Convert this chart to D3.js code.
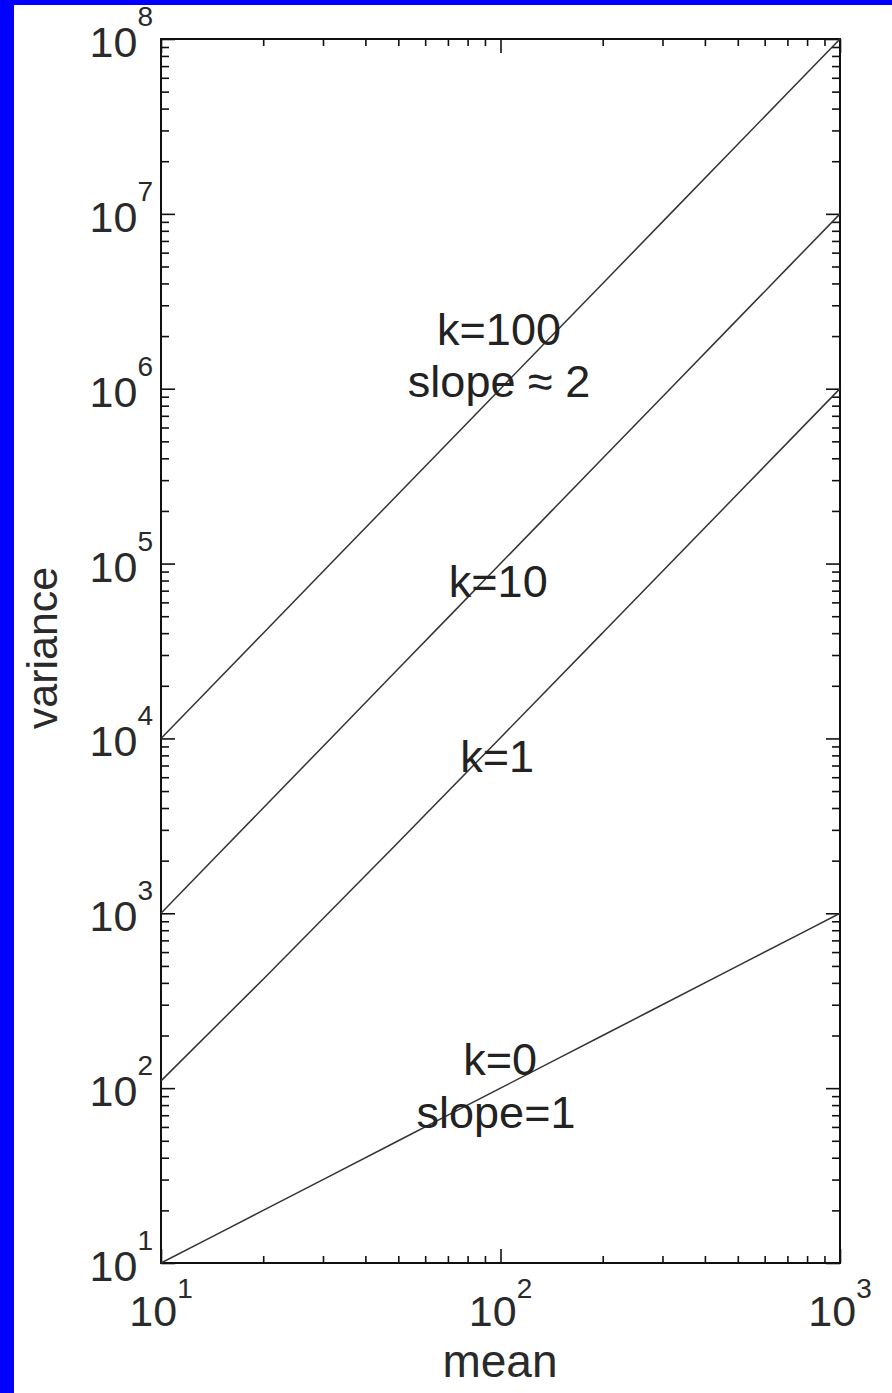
<!DOCTYPE html>
<html>
<head>
<meta charset="utf-8">
<script src="https://cdn.jsdelivr.net/npm/d3@7/dist/d3.min.js"></script>
<style>
  html, body { margin: 0; padding: 0; background: #0000ff; }
  svg { display: block; }
  text { font-family: "Liberation Sans", Arial, Helvetica, sans-serif; }
</style>
</head>
<body>
<svg id="chart" width="892" height="1393"></svg>
<script>
// ---- data ----
const meanValues = [10, 20, 50, 100, 200, 500, 1000];
const varK100 = [1e4, 4e4, 2.5e5, 1e6, 4e6, 2.5e7, 1e8];
const varK10  = [1e3, 4e3, 2.5e4, 1e5, 4e5, 2.5e6, 1e7];
const varK1   = [110, 420, 2550, 10100, 40200, 250500, 1001000];
const varK0   = [10, 20, 50, 100, 200, 500, 1000];
const seriesNames = ["k=100", "k=10", "k=1", "k=0"];
const xMajorTicks = [10, 100, 1000];
const yMajorTicks = [1e1, 1e2, 1e3, 1e4, 1e5, 1e6, 1e7, 1e8];
// annotation labels: [text, mean, variance]
const annotations = [
  ["k=100", 99, Math.pow(10, 6.25)],
  ["slope \u2248 2", 99, Math.pow(10, 5.953)],
  ["k=10", 98.5, Math.pow(10, 4.809)],
  ["k=1", 97.8, Math.pow(10, 3.808)],
  ["k=0", 99.7, Math.pow(10, 2.075)],
  ["slope=1", 97, Math.pow(10, 1.772)]
];

const svg = d3.select("#chart");
// white panel (blue border top and left)
svg.append("rect").attr("x", 14).attr("y", 5).attr("width", 892 - 14).attr("height", 1393 - 5).attr("fill", "#ffffff");

const L = 161, R = 840, T = 39, B = 1263;
const x = d3.scaleLog().domain([10, 1000]).range([L, R]);
const y = d3.scaleLog().domain([10, 1e8]).range([B, T]);

function minorTicks(lo, hi) {
  const out = [];
  for (let e = Math.log10(lo); e < Math.log10(hi); e++) {
    for (let m = 2; m <= 9; m++) out.push(m * Math.pow(10, e));
  }
  return out;
}
const xMinor = minorTicks(10, 1000);
const yMinor = minorTicks(10, 1e8);

function styleAxis(g) {
  g.select(".domain").remove();
  g.selectAll(".tick line").attr("stroke", "#111").attr("stroke-width", 1.6);
  g.selectAll(".tick text").remove();
}

// bottom
svg.append("g").attr("transform", `translate(0,${B})`).call(d3.axisBottom(x).tickValues(xMinor).tickSize(-7).tickFormat("")).call(styleAxis);
svg.append("g").attr("transform", `translate(0,${B})`).call(d3.axisBottom(x).tickValues(xMajorTicks).tickSize(-14).tickFormat("")).call(styleAxis);
// top
svg.append("g").attr("transform", `translate(0,${T})`).call(d3.axisTop(x).tickValues(xMinor).tickSize(-7).tickFormat("")).call(styleAxis);
svg.append("g").attr("transform", `translate(0,${T})`).call(d3.axisTop(x).tickValues(xMajorTicks).tickSize(-14).tickFormat("")).call(styleAxis);
// left
svg.append("g").attr("transform", `translate(${L},0)`).call(d3.axisLeft(y).tickValues(yMinor).tickSize(-8).tickFormat("")).call(styleAxis);
svg.append("g").attr("transform", `translate(${L},0)`).call(d3.axisLeft(y).tickValues(yMajorTicks).tickSize(-14).tickFormat("")).call(styleAxis);
// right
svg.append("g").attr("transform", `translate(${R},0)`).call(d3.axisRight(y).tickValues(yMinor).tickSize(-8).tickFormat("")).call(styleAxis);
svg.append("g").attr("transform", `translate(${R},0)`).call(d3.axisRight(y).tickValues(yMajorTicks).tickSize(-14).tickFormat("")).call(styleAxis);

// frame
svg.append("rect").attr("x", L).attr("y", T).attr("width", R - L).attr("height", B - T)
  .attr("fill", "none").attr("stroke", "#111").attr("stroke-width", 2);

// tick labels
yMajorTicks.forEach(v => {
  const t = svg.append("text").attr("x", 153).attr("y", y(v) + 18)
    .attr("text-anchor", "end").attr("fill", "#2a2a2a");
  t.append("tspan").attr("font-size", 43).text("10");
  t.append("tspan").attr("font-size", 28).attr("dy", -31).text(String(Math.round(Math.log10(v))));
});
xMajorTicks.forEach(v => {
  const t = svg.append("text").attr("x", x(v)).attr("y", 1326)
    .attr("text-anchor", "middle").attr("fill", "#2a2a2a");
  t.append("tspan").attr("font-size", 43).text("10");
  t.append("tspan").attr("font-size", 28).attr("dy", -28).text(String(Math.round(Math.log10(v))));
});

// axis titles
svg.append("text").attr("x", 500).attr("y", 1377).attr("text-anchor", "middle")
  .attr("font-size", 46).attr("fill", "#2a2a2a").text("mean");
svg.append("text").attr("transform", `translate(57,648) rotate(-90)`).attr("text-anchor", "middle")
  .attr("font-size", 43).attr("fill", "#2a2a2a").text("variance");

// lines
const series = [varK100, varK10, varK1, varK0];
const line = d3.line().x(d => x(d[0])).y(d => y(d[1])).curve(d3.curveMonotoneX);
series.forEach((vals, i) => {
  svg.append("path")
    .datum(meanValues.map((m, j) => [m, vals[j]]))
    .attr("d", line)
    .attr("fill", "none").attr("stroke", "#333").attr("stroke-width", 1.5)
    .attr("class", "series-" + seriesNames[i]);
});

// annotations
annotations.forEach(a => {
  svg.append("text").attr("x", x(a[1])).attr("y", y(a[2]))
    .attr("text-anchor", "middle").attr("font-size", 45).attr("fill", "#222").text(a[0]);
});
</script>
</body>
</html>
